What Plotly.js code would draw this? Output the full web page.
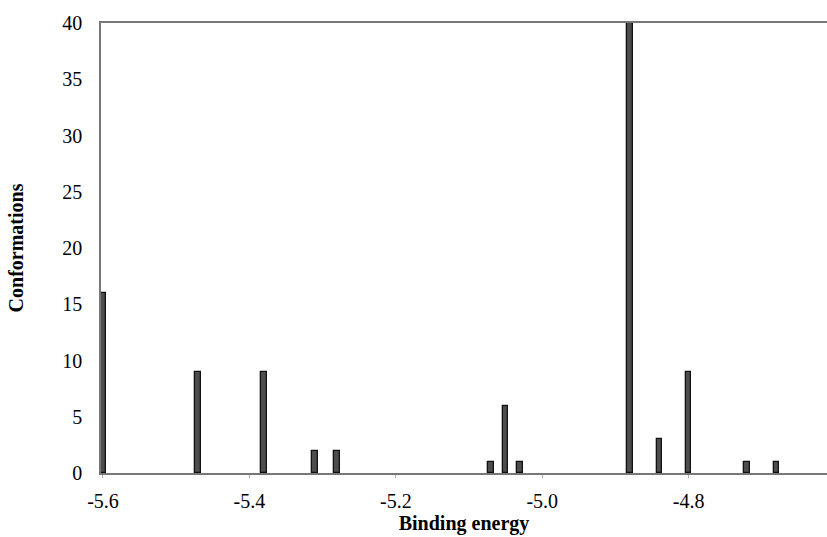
<!DOCTYPE html>
<html>
<head>
<meta charset="utf-8">
<script src="https://cdn.plot.ly/plotly-3.0.1.min.js"></script>
<style>html,body{margin:0;padding:0;background:#fff;}#chart{width:827px;height:537px;}</style>
</head>
<body>
<div id="chart"></div>
<script>
const bindingEnergy = [-5.60, -5.47, -5.38, -5.31, -5.28, -5.07, -5.05, -5.03, -4.88, -4.84, -4.80, -4.72, -4.68];
const conformations = [16, 9, 9, 2, 2, 1, 6, 1, 40, 3, 9, 1, 1];
const xTickVals = [-5.6, -5.4, -5.2, -5.0, -4.8];
const xTickText = ["-5.6", "-5.4", "-5.2", "-5.0", "-4.8"];
const yTickVals = [0, 5, 10, 15, 20, 25, 30, 35, 40];

const serif = "'Liberation Serif', 'Times New Roman', serif";

Plotly.newPlot('chart', [{
  type: 'bar',
  x: bindingEnergy,
  y: conformations,
  width: 0.0078,
  marker: {color: '#4d4d4d', line: {color: '#111111', width: 1.3}},
  hoverinfo: 'x+y'
}], {
  width: 827, height: 537,
  margin: {l: 101, r: 0, t: 23, b: 64},
  paper_bgcolor: '#fff', plot_bgcolor: '#fff',
  showlegend: false,
  font: {family: serif, color: '#000', size: 20},
  xaxis: {
    range: [-5.6027, -4.611],
    tickvals: xTickVals, ticktext: xTickText,
    showgrid: false, zeroline: false,
    showline: true, linecolor: '#777', linewidth: 1.5, mirror: true,
    ticks: 'outside', ticklen: 3, tickcolor: '#aaa', tickwidth: 1,
    ticklabelstandoff: 6,
    tickfont: {family: serif, size: 20, color: '#000'},
    title: {text: '<b>Binding energy</b>', font: {family: serif, size: 20, color: '#000'}, standoff: 0}
  },
  yaxis: {
    range: [0, 40],
    tickvals: yTickVals,
    showgrid: false, zeroline: false,
    showline: true, linecolor: '#777', linewidth: 1.5,
    ticks: '',
    ticklabelstandoff: 13,
    tickfont: {family: serif, size: 20, color: '#000'},
    title: {text: '<b>Conformations</b>', font: {family: serif, size: 20, color: '#000'}, standoff: 33}
  },
  bargap: 0
}, {displayModeBar: false});
</script>
</body>
</html>
